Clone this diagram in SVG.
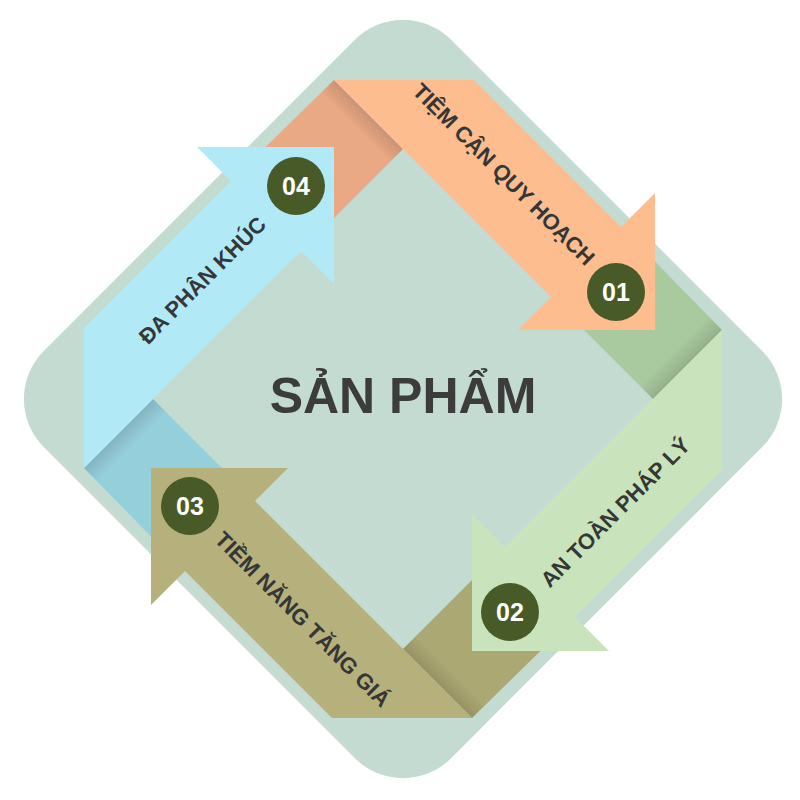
<svg xmlns="http://www.w3.org/2000/svg" width="800" height="800" viewBox="0 0 800 800">
<defs>
<style>
.lbl{font-family:"Liberation Sans",Arial,sans-serif;font-weight:bold;font-size:22px;fill:#363636;text-anchor:middle}
.num{font-family:"Liberation Sans",Arial,sans-serif;font-weight:bold;font-size:25px;fill:#ffffff;text-anchor:middle}
.badge{fill:#475a28}
.title{font-family:"Liberation Sans",Arial,sans-serif;font-weight:bold;font-size:50px;fill:#3c3c3c;text-anchor:middle}
</style>
<polygon id="arrow" points="334,80 474,80 621,227 655,193 655,330 518,330 551,297"/>
<polygon id="fold" points="334,80 403,149 306,246 236,176"/>
<polygon id="crease" points="334,80 403,149 390,162 321,93"/>
<linearGradient id="shade" gradientUnits="userSpaceOnUse" x1="368.5" y1="114.5" x2="355" y2="128">
<stop offset="0" stop-color="#000" stop-opacity="0.13"/>
<stop offset="1" stop-color="#000" stop-opacity="0"/>
</linearGradient>
</defs>

<g id="background">
<rect x="-288" y="-288" width="576" height="576" rx="68" fill="#c3dbd0" transform="translate(403,399) rotate(45)"/>
</g>

<g id="folds">
<use href="#fold" fill="#e9a984"/>
<use href="#crease" fill="url(#shade)"/>
<use href="#fold" fill="#a9c99f" transform="rotate(90 403 399)"/>
<use href="#crease" fill="url(#shade)" transform="rotate(90 403 399)"/>
<use href="#fold" fill="#aca873" transform="rotate(180 403 399)"/>
<use href="#crease" fill="url(#shade)" transform="rotate(180 403 399)"/>
<use href="#fold" fill="#95cfdc" transform="rotate(270 403 399)"/>
<use href="#crease" fill="url(#shade)" transform="rotate(270 403 399)"/>
</g>

<g id="step-01">
<use href="#arrow" fill="#fdbd8e"/>
<text class="lbl" transform="translate(504,174) rotate(45)" y="8">TIỆM CẬN QUY HOẠCH</text>
<circle class="badge" cx="616" cy="292" r="29"/>
<text class="num" x="616" y="301">01</text>
</g>

<g id="step-02">
<use href="#arrow" fill="#c9e4bd" transform="rotate(90 403 399)"/>
<text class="lbl" transform="translate(615,512) rotate(-45)" y="8">AN TOÀN PHÁP LÝ</text>
<circle class="badge" cx="510" cy="612" r="29"/>
<text class="num" x="510" y="621">02</text>
</g>

<g id="step-03">
<use href="#arrow" fill="#b6b17c" transform="rotate(180 403 399)"/>
<text class="lbl" transform="translate(303,619) rotate(45)" y="8">TIỀM NĂNG TĂNG GIÁ</text>
<circle class="badge" cx="190" cy="506" r="29"/>
<text class="num" x="190" y="515">03</text>
</g>

<g id="step-04">
<use href="#arrow" fill="#b1eaf6" transform="rotate(270 403 399)"/>
<text class="lbl" transform="translate(202,280) rotate(-45)" y="8">ĐA PHÂN KHÚC</text>
<circle class="badge" cx="296" cy="186" r="29"/>
<text class="num" x="296" y="195">04</text>
</g>

<g id="center">
<text class="title" x="403" y="413">SẢN PHẨM</text>
</g>
</svg>
